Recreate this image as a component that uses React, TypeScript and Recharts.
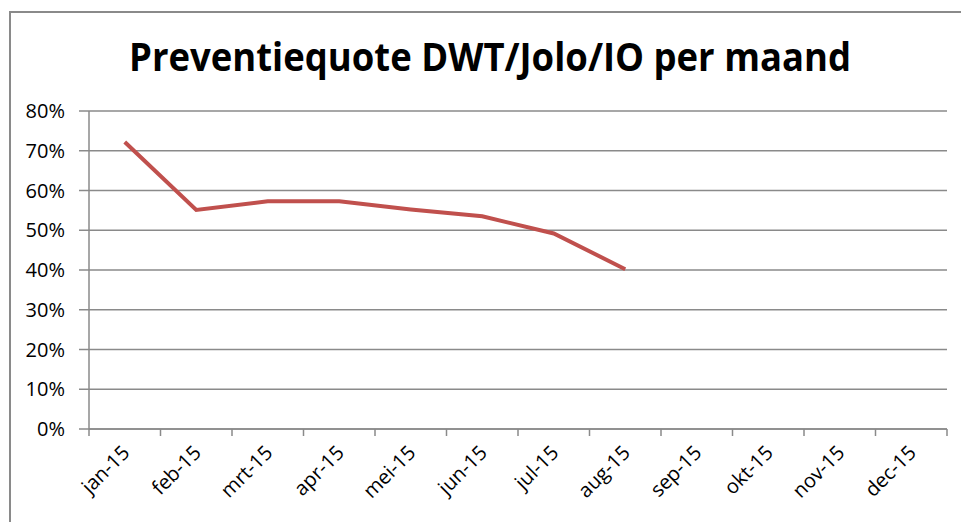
import { LineChart, Line, XAxis, YAxis, CartesianGrid } from 'recharts';

const months = ['jan-15', 'feb-15', 'mrt-15', 'apr-15', 'mei-15', 'jun-15', 'jul-15', 'aug-15', 'sep-15', 'okt-15', 'nov-15', 'dec-15'];
const quote: (number | null)[] = [0.722, 0.551, 0.573, 0.573, 0.552, 0.535, 0.492, 0.402, null, null, null, null];
const yTicks = [0, 0.1, 0.2, 0.3, 0.4, 0.5, 0.6, 0.7, 0.8];

const data = months.map((m, i) => ({ month: m, quote: quote[i] }));

const W = 961;
const H = 522;
const M = { top: 111, right: 14, bottom: 0, left: 0 };
const Y_W = 89;
const X_H = 93;
const BAND = (W - M.left - M.right - Y_W) / months.length;
const GRAY = '#8a8a8a';
const FONT = '"Open Sans", sans-serif';

function MonthTick(props: any) {
  const { x, y, payload, index } = props;
  const left = x - BAND / 2;
  const tx = x + 6;
  const ty = y + 25;
  return (
    <g>
      <line x1={left} y1={y} x2={left} y2={y + 7} stroke={GRAY} strokeWidth={1.5} />
      {index === months.length - 1 && (
        <line x1={x + BAND / 2} y1={y} x2={x + BAND / 2} y2={y + 7} stroke={GRAY} strokeWidth={1.5} />
      )}
      <text
        x={tx}
        y={ty}
        textAnchor="end"
        fontSize={20}
        fontFamily={FONT}
        fill="#000"
        transform={`rotate(-45, ${tx}, ${ty})`}
      >
        {payload.value}
      </text>
    </g>
  );
}

export default function App() {
  return (
    <div style={{ position: 'fixed', left: 0, top: 0, width: W, height: H, background: '#fff', overflow: 'hidden' }}>
      <div
        style={{
          position: 'absolute',
          left: 9,
          top: 11,
          width: 1000,
          height: 600,
          border: `2px solid ${GRAY}`,
          boxSizing: 'border-box',
        }}
      />
      <svg style={{ position: 'absolute', left: 0, top: 0 }} width={W} height={100}>
        <text
          x={490}
          y={71}
          textAnchor="middle"
          fontSize={40}
          fontWeight="bold"
          fontFamily={FONT}
          textLength={722}
          lengthAdjust="spacingAndGlyphs"
          fill="#000"
        >
          Preventiequote DWT/Jolo/IO per maand
        </text>
      </svg>
      <div style={{ position: 'absolute', left: 0, top: 0 }}>
        <LineChart width={W} height={H} data={data} margin={M}>
          <CartesianGrid vertical={false} stroke={GRAY} strokeWidth={1.5} />
          <XAxis
            dataKey="month"
            scale="band"
            height={X_H}
            interval={0}
            tickLine={false}
            tickSize={0}
            tickMargin={0}
            axisLine={{ stroke: GRAY, strokeWidth: 1.5 }}
            tick={<MonthTick />}
          />
          <YAxis
            width={Y_W}
            domain={[0, 0.8]}
            ticks={yTicks}
            interval={0}
            tickSize={10}
            tickMargin={14}
            tickLine={{ stroke: GRAY, strokeWidth: 1.5 }}
            axisLine={{ stroke: GRAY, strokeWidth: 1.5 }}
            tickFormatter={(v: number) => `${Math.round(v * 100)}%`}
            tick={{ fill: '#000', fontSize: 20, fontFamily: FONT }}
          />
          <Line
            dataKey="quote"
            type="linear"
            stroke="#C0504D"
            strokeWidth={4}
            dot={false}
            isAnimationActive={false}
          />
        </LineChart>
      </div>
    </div>
  );
}
